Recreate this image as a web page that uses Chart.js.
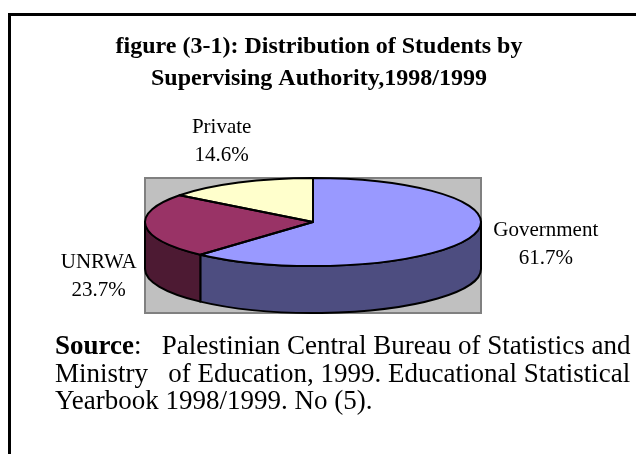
<!DOCTYPE html>
<html lang="en">
<head>
<meta charset="UTF-8">
<title>Distribution of Students by Supervising Authority</title>
<script src="https://cdn.jsdelivr.net/npm/chart.js"></script>
<style>
  html, body { margin: 0; padding: 0; background: #fff; overflow: hidden; }
  #wrap { position: relative; width: 636px; height: 454px; }
  #frame { position: absolute; left: 8px; top: 13px; right: 0; bottom: 0;
           border-left: 3px solid #000; border-top: 3px solid #000; }
  canvas { position: absolute; left: 0; top: 0; }
</style>
</head>
<body>
<div id="wrap">
  <div id="frame"></div>
  <canvas id="pie" width="636" height="454"></canvas>
</div>
<script>
// data
const authorities = ["Government", "UNRWA", "Private"];
const shares = [61.7, 23.7, 14.6];
const titleLines = ["figure (3-1): Distribution of Students by", "Supervising Authority,1998/1999"];
const sourceLines = [
  [["Source", true], [":   Palestinian Central Bureau of Statistics and", false]],
  [["Ministry   of Education, 1999. Educational Statistical", false]],
  [["Yearbook 1998/1999. No (5).", false]]
];

// styles
const SERIF = "'Liberation Serif', 'Times New Roman', serif";
const topColors = ["#9999FF", "#993366", "#FFFFCC"];
const sideColors = ["#4D4D80", "#4D1A33", "#808066"];
const TILT = 0.262;               // ry / rx of the pie top
const labelNudge = [[76, 7], [-47, 50], [-17, -41]];

function pieGeom(chart) {
  const arcs = chart.getDatasetMeta(0).data;
  const a = chart.chartArea;
  const rx = (a.right - a.left) / 2;
  const ry = rx * TILT;
  return { arcs, rx, ry, cx: arcs[0].x, cy: a.top + ry,
           depth: a.bottom - a.top - 2 * ry, R: arcs[0].outerRadius,
           ox: arcs[0].x, oy: arcs[0].y };
}

const pie3d = {
  id: "pie3d",
  beforeDatasetsDraw(chart) {
    const ctx = chart.ctx, a = chart.chartArea, g = pieGeom(chart);
    ctx.save();
    // grey floor
    ctx.fillStyle = "#C0C0C0";
    ctx.fillRect(a.left, a.top, a.right - a.left, a.bottom - a.top);
    ctx.strokeStyle = "#808080";
    ctx.lineWidth = 2;
    ctx.strokeRect(a.left, a.top, a.right - a.left, a.bottom - a.top);

    // visible walls (front half of the ellipse)
    ctx.lineJoin = "round";
    g.arcs.forEach((arc, i) => {
      const TAU = Math.PI * 2;
      const s = ((arc.startAngle % TAU) + TAU) % TAU;
      const e = s + (arc.endAngle - arc.startAngle);
      for (const base of [0, TAU]) {
        const a0 = Math.max(s, base), a1 = Math.min(e, base + Math.PI);
        if (a1 <= a0) continue;
        ctx.beginPath();
        ctx.ellipse(g.cx, g.cy, g.rx, g.ry, 0, a0, a1, false);
        ctx.ellipse(g.cx, g.cy + g.depth, g.rx, g.ry, 0, a1, a0, true);
        ctx.closePath();
        ctx.fillStyle = sideColors[i];
        ctx.fill();
        ctx.strokeStyle = "#000";
        ctx.lineWidth = 2;
        ctx.stroke();
      }
    });
    ctx.restore();

    // squash the library's circle into the top ellipse
    ctx.save();
    ctx.translate(g.cx, g.cy);
    ctx.scale(g.rx / g.R, g.ry / g.R);
    ctx.translate(-g.ox, -g.oy);
  },
  afterDatasetsDraw(chart) {
    const ctx = chart.ctx, g = pieGeom(chart);
    ctx.restore();
    ctx.save();
    ctx.strokeStyle = "#000";
    ctx.lineWidth = 2;
    ctx.lineJoin = "round";
    g.arcs.forEach(arc => {
      ctx.beginPath();
      ctx.moveTo(g.cx, g.cy);
      ctx.ellipse(g.cx, g.cy, g.rx, g.ry, 0, arc.startAngle, arc.endAngle, false);
      ctx.closePath();
      ctx.stroke();
    });
    ctx.restore();
  },
  afterDraw(chart) {
    const ctx = chart.ctx, g = pieGeom(chart);
    ctx.save();
    ctx.fillStyle = "#000";
    ctx.textBaseline = "middle";

    // title
    ctx.font = "bold 24px " + SERIF;
    ctx.textAlign = "center";
    titleLines.forEach((t, i) => ctx.fillText(t, 319, 47 + i * 32));

    // slice labels
    ctx.font = "21px " + SERIF;
    g.arcs.forEach((arc, i) => {
      const m = (arc.startAngle + arc.endAngle) / 2;
      const x = g.cx + g.rx * Math.cos(m) + labelNudge[i][0];
      const y = g.cy + g.ry * Math.sin(m) + labelNudge[i][1];
      ctx.fillText(authorities[i], x, y - 14);
      ctx.fillText(shares[i].toFixed(1) + "%", x, y + 14);
    });

    // source note
    ctx.textAlign = "left";
    let y = chart.chartArea.bottom + 34;
    sourceLines.forEach(runs => {
      let x = 55;
      runs.forEach(([t, bold]) => {
        ctx.font = (bold ? "bold " : "") + "27px " + SERIF;
        ctx.fillText(t, x, y);
        x += ctx.measureText(t).width;
      });
      y += 27.5;
    });
    ctx.restore();
  }
};

Chart.defaults.font.family = SERIF;
Chart.defaults.color = "#000";

new Chart(document.getElementById("pie"), {
  type: "pie",
  data: {
    labels: authorities,
    datasets: [{
      data: shares,
      backgroundColor: topColors,
      borderWidth: 0
    }]
  },
  options: {
    responsive: false,
    animation: false,
    events: [],
    layout: { padding: { left: 145, right: 155, top: 178, bottom: 141 } },
    plugins: {
      legend: { display: false },
      title: { display: false },
      tooltip: { enabled: false }
    }
  },
  plugins: [pie3d]
});
</script>
</body>
</html>
